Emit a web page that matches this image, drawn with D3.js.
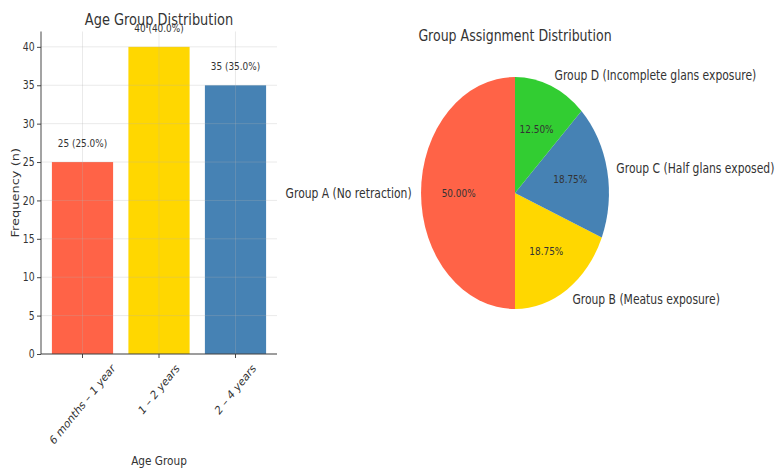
<!DOCTYPE html>
<html><head><meta charset="utf-8">
<script src="https://cdn.jsdelivr.net/npm/d3@7"></script>
<style>body{margin:0;background:#fff}text{font-family:"DejaVu Sans",sans-serif;fill:#333}</style>
</head><body>
<script>
// ---- data ----
const ageCategories = ["6 months – 1 year", "1 – 2 years", "2 – 4 years"];
const ageCounts = [25, 40, 35];
const agePercents = ["25.0%", "40.0%", "35.0%"];
const ageColors = ["#FF6347", "#FFD700", "#4682B4"];
const yTicks = [0, 5, 10, 15, 20, 25, 30, 35, 40];

const groupLabels = ["Group A (No retraction)", "Group B (Meatus exposure)", "Group C (Half glans exposed)", "Group D (Incomplete glans exposure)"];
const groupCounts = [40, 15, 15, 10];
const groupColors = ["#FF6347", "#FFD700", "#4682B4", "#32CD32"];

// ---- layout ----
const W = 776, H = 469, sx = 0.81;
const svg = d3.select("body").append("svg").attr("width", W).attr("height", H);
const g = svg.append("g").attr("transform", `scale(${sx},1)`);
const X = v => v / sx; // convert screen x to inner x

// ---- bar chart ----
const pLeft = X(41), pRight = X(277), pTop = 31.5, pBottom = 354;
const x = d3.scaleBand().domain(ageCategories).range([pLeft, pRight]).paddingInner(0.2).paddingOuter(0.1425);
const y = d3.scaleLinear().domain([0, 42]).range([pBottom, pTop]);

const bars = g.append("g");
bars.selectAll("rect").data(ageCounts).join("rect")
  .attr("x", (d, i) => x(ageCategories[i]))
  .attr("width", x.bandwidth())
  .attr("y", d => y(d))
  .attr("height", d => y(0) - y(d))
  .attr("fill", (d, i) => ageColors[i]);

// grid (on top, faint)
const grid = g.append("g").attr("stroke", "#b0b0b0").attr("stroke-opacity", 0.3).attr("stroke-width", 1);
grid.selectAll("line.h").data(yTicks).join("line").attr("class", "h")
  .attr("x1", pLeft).attr("x2", pRight).attr("y1", d => y(d)).attr("y2", d => y(d));
grid.selectAll("line.v").data(ageCategories).join("line").attr("class", "v")
  .attr("x1", d => x(d) + x.bandwidth() / 2).attr("x2", d => x(d) + x.bandwidth() / 2)
  .attr("y1", pTop).attr("y2", pBottom);

// axes
const yAxis = g.append("g").attr("transform", `translate(${pLeft},0)`)
  .call(d3.axisLeft(y).tickValues(yTicks).tickSize(4 / sx).tickPadding(3));
yAxis.select(".domain").attr("stroke", "#333").attr("d", `M0,${pTop}V${pBottom}`);
yAxis.selectAll(".tick line").attr("stroke", "#333");
yAxis.selectAll(".tick text").attr("font-size", 11.5).attr("font-family", "DejaVu Sans").style("fill", "#333");

const xAxis = g.append("g").attr("transform", `translate(0,${pBottom})`)
  .call(d3.axisBottom(x).tickSize(4).tickFormat(""));
xAxis.select(".domain").attr("stroke", "#333").attr("d", `M${pLeft},0H${pRight}`);
xAxis.selectAll(".tick line").attr("stroke", "#333");

// rotated x tick labels, bbox centered on tick
const xl = g.append("g");
ageCategories.forEach(c => {
  const t = xl.append("text").text(c).attr("font-size", 12)
    .attr("text-anchor", "middle").attr("dominant-baseline", "central");
  const w = t.node().getComputedTextLength();
  const ty = 362 + (w + 12) * Math.SQRT1_2 / 2;
  const tx = x(c) + x.bandwidth() / 2;
  t.attr("transform", `translate(${tx},${ty}) rotate(-45)`);
});

// value labels
g.append("g").selectAll("text").data(ageCounts).join("text")
  .attr("x", (d, i) => x(ageCategories[i]) + x.bandwidth() / 2)
  .attr("y", d => y(d) - 15)
  .attr("text-anchor", "middle").attr("font-size", 11)
  .text((d, i) => `${d} (${agePercents[i]})`);

// titles & axis labels
g.append("text").attr("x", X(159)).attr("y", 25).attr("text-anchor", "middle").attr("font-size", 16).text("Age Group Distribution");
g.append("text").attr("transform", `translate(${X(19)},${(pTop + pBottom) / 2}) rotate(-90)`).attr("text-anchor", "middle").attr("font-size", 13).text("Frequency (n)");
g.append("text").attr("x", X(159)).attr("y", 465).attr("text-anchor", "middle").attr("font-size", 13).text("Age Group");

// ---- pie chart ----
const pcx = X(515), pcy = 193, r = 116;
const pie = d3.pie().sort(null).startAngle(0).endAngle(-2 * Math.PI);
const arcs = pie(groupCounts);
const arc = d3.arc().innerRadius(0).outerRadius(r);
const pg = g.append("g").attr("transform", `translate(${pcx},${pcy})`);
pg.selectAll("path").data(arcs).join("path").attr("d", arc).attr("fill", (d, i) => groupColors[i]);

const total = d3.sum(groupCounts);
arcs.forEach((a, i) => {
  const m = (a.startAngle + a.endAngle) / 2; // clockwise from top
  const sm = Math.sin(m), cm = -Math.cos(m);
  pg.append("text").attr("x", 1.1 * r * sm).attr("y", 1.1 * r * cm).attr("dy", "0.35em")
    .attr("text-anchor", sm > 0.001 ? "start" : (sm < -0.001 ? "end" : "middle"))
    .attr("font-size", 13.3).text(groupLabels[i]);
  pg.append("text").attr("x", 0.6 * r * sm).attr("y", 0.6 * r * cm).attr("dy", "0.35em")
    .attr("text-anchor", "middle").attr("font-size", 11)
    .text((groupCounts[i] / total * 100).toFixed(2) + "%");
});

g.append("text").attr("x", pcx).attr("y", 41).attr("text-anchor", "middle").attr("font-size", 15.5).text("Group Assignment Distribution");
</script>
</body></html>
